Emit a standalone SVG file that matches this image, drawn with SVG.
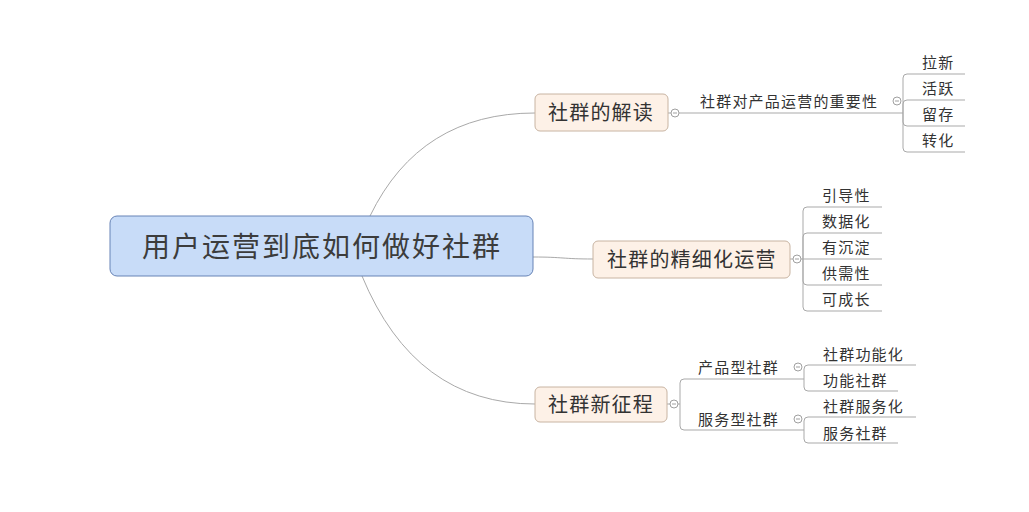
<svg xmlns="http://www.w3.org/2000/svg" width="1029" height="512" viewBox="0 0 1029 512">
<style>
text{font-family:"Noto Sans CJK SC","Microsoft YaHei",sans-serif;fill:#333}
.root{fill:#c8dcf8;stroke:#6783b6;stroke-width:1}
.rt{font-size:28px;letter-spacing:2px;fill:#3c3c3c}
.br{fill:#fdf1e7;stroke:#c8b4a2;stroke-width:1}
.bt{font-size:20px;letter-spacing:1.2px}
.lt{font-size:15px;letter-spacing:1.2px}
.ln{fill:none;stroke:#a9a9a9;stroke-width:1}
.cl{fill:#fff;stroke:#a0a0a0;stroke-width:1}
.mn{stroke:#a0a0a0;stroke-width:1}
</style>
<rect width="1029" height="512" fill="#fff"/>
<g id="connectors">
<path class="ln" d="M370,216 Q420,113 535,113"/>
<path class="ln" d="M533,257 C563,257 563,259 593,259"/>
<path class="ln" d="M362,276 Q415,404 535,404"/>
<path class="ln" d="M668,113 H671 M679,113 H903"/>
<path class="ln" d="M903,113 V78 Q903,74 907,74 H965 M903,113 V104 Q903,100 907,100 H965 M903,113 V122 Q903,126 907,126 H965 M903,113 V148 Q903,152 907,152 H965"/>
<path class="ln" d="M790,259 H793 M801,259 H803"/>
<path class="ln" d="M803,259 V211 Q803,207 807,207 H882 M803,259 V237 Q803,233 807,233 H882 M803,259 H882 M803,259 V281 Q803,285 807,285 H882 M803,259 V307 Q803,311 807,311 H882"/>
<path class="ln" d="M667,404 H670 M678,404 H680"/>
<path class="ln" d="M680,404 V383 Q680,379 684,379 H804 M680,404 V426 Q680,430 684,430 H804"/>
<path class="ln" d="M804,379 V369 Q804,365 808,365 H916 M804,379 V387 Q804,391 808,391 H898"/>
<path class="ln" d="M804,430 V421 Q804,417 808,417 H916 M804,430 V439 Q804,443 808,443 H898"/>
</g>
<g id="root">
<rect class="root" x="110" y="216" width="423" height="60" rx="7"/>
<text class="rt" x="142" y="257">用户运营到底如何做好社群</text>
</g>
<g id="b1">
<rect class="br" x="535" y="94" width="133" height="37" rx="5"/>
<text class="bt" x="548" y="119.5">社群的解读</text>
<circle class="cl" cx="675" cy="113" r="4"/><path class="mn" d="M673,113 H677"/>
</g>
<g id="b1-1">
<text class="lt" x="700" y="106.5">社群对产品运营的重要性</text>
<circle class="cl" cx="897" cy="101" r="4"/><path class="mn" d="M895,101 H899"/>
</g>
<g id="l-laxin"><text class="lt" x="922" y="67.5">拉新</text></g>
<g id="l-huoyue"><text class="lt" x="922" y="93.5">活跃</text></g>
<g id="l-liucun"><text class="lt" x="922" y="119.5">留存</text></g>
<g id="l-zhuanhua"><text class="lt" x="922" y="145.5">转化</text></g>
<g id="b2">
<rect class="br" x="593" y="241" width="197" height="37" rx="5"/>
<text class="bt" x="607" y="266.5">社群的精细化运营</text>
<circle class="cl" cx="797" cy="259" r="4"/><path class="mn" d="M795,259 H799"/>
</g>
<g id="l-yindao"><text class="lt" x="822" y="200.5">引导性</text></g>
<g id="l-shuju"><text class="lt" x="822" y="226.5">数据化</text></g>
<g id="l-chendian"><text class="lt" x="822" y="252.5">有沉淀</text></g>
<g id="l-gongxu"><text class="lt" x="822" y="278.5">供需性</text></g>
<g id="l-chengzhang"><text class="lt" x="822" y="304.5">可成长</text></g>
<g id="b3">
<rect class="br" x="535" y="387" width="132" height="35" rx="5"/>
<text class="bt" x="548" y="412">社群新征程</text>
<circle class="cl" cx="674" cy="404" r="4"/><path class="mn" d="M672,404 H676"/>
</g>
<g id="b3-1">
<text class="lt" x="698" y="372.5">产品型社群</text>
<circle class="cl" cx="798" cy="367" r="4"/><path class="mn" d="M796,367 H800"/>
</g>
<g id="b3-2">
<text class="lt" x="698" y="424.5">服务型社群</text>
<circle class="cl" cx="798" cy="419" r="4"/><path class="mn" d="M796,419 H800"/>
</g>
<g id="l-gnh"><text class="lt" x="823" y="359.5">社群功能化</text></g>
<g id="l-gnsq"><text class="lt" x="823" y="386">功能社群</text></g>
<g id="l-fwh"><text class="lt" x="823" y="412">社群服务化</text></g>
<g id="l-fwsq"><text class="lt" x="823" y="438.5">服务社群</text></g>
</svg>
